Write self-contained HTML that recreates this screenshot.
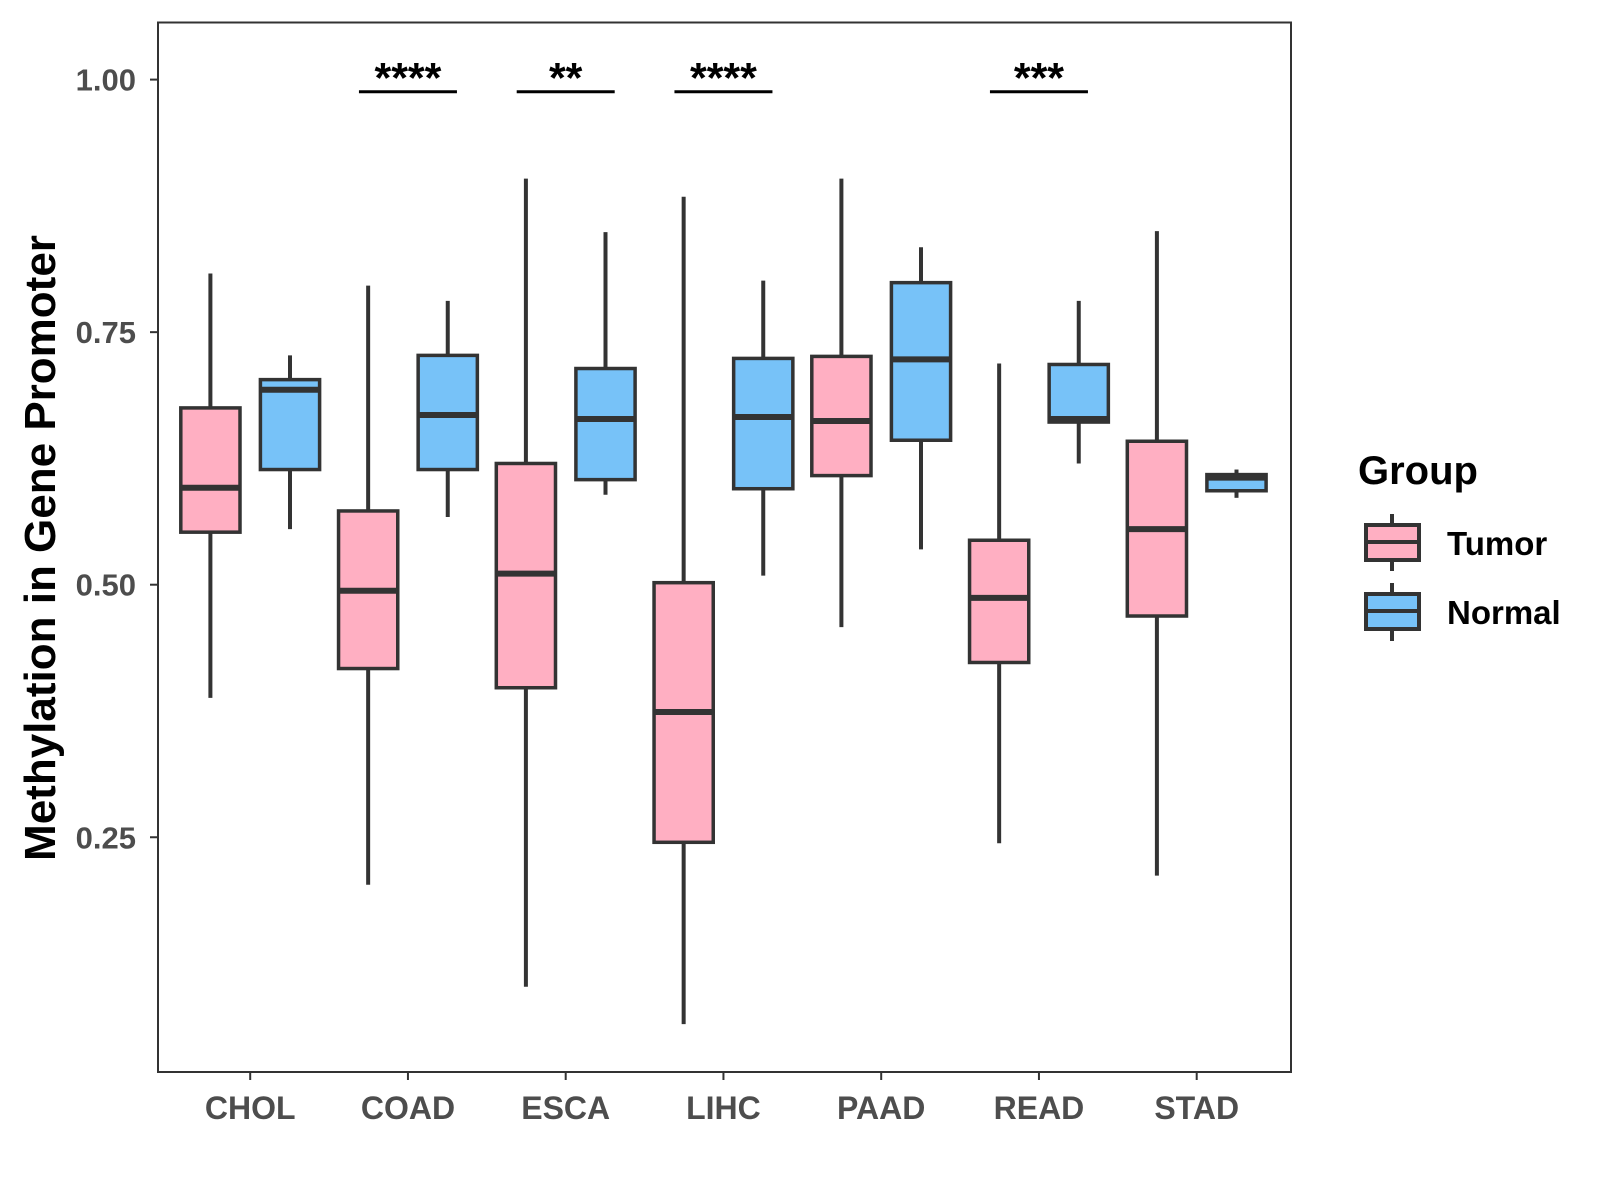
<!DOCTYPE html>
<html><head><meta charset="utf-8"><style>
body{margin:0;background:#fff}
svg{display:block;font-family:"Liberation Sans",Arial,sans-serif}
</style></head><body>
<svg id="chart" width="1600" height="1200" viewBox="0 0 1600 1200">
<rect x="0" y="0" width="1600" height="1200" fill="#fff"/>
<g id="plot"></g>
<rect x="158" y="22.5" width="1133" height="1049.5" fill="none" stroke="#333" stroke-width="2"/>
<text transform="translate(55,548) rotate(-90)" text-anchor="middle" font-size="44" font-weight="bold" fill="#000">Methylation in Gene Promoter</text>
<g>
<text x="1358" y="484" font-size="40" font-weight="bold">Group</text>
<g>
<line x1="1392" y1="514" x2="1392" y2="571" stroke="#333" stroke-width="4"/>
<rect x="1366" y="525" width="53" height="35" fill="#FFAFC2" stroke="#333" stroke-width="4"/>
<line x1="1366" y1="542" x2="1419" y2="542" stroke="#333" stroke-width="4"/>
<text x="1447" y="555" font-size="33" font-weight="bold">Tumor</text>
</g>
<g>
<line x1="1392" y1="583" x2="1392" y2="641" stroke="#333" stroke-width="4"/>
<rect x="1366" y="594" width="53" height="35" fill="#77C2F8" stroke="#333" stroke-width="4"/>
<line x1="1366" y1="611" x2="1419" y2="611" stroke="#333" stroke-width="4"/>
<text x="1447" y="624" font-size="33" font-weight="bold">Normal</text>
</g>
</g>
</svg>
<script>
const categories=["CHOL","COAD","ESCA","LIHC","PAAD","READ","STAD"];
// [low, q1, median, q3, high]
const tumorStats=[[0.388,0.552,0.596,0.675,0.808],[0.203,0.417,0.494,0.573,0.796],[0.102,0.398,0.511,0.620,0.902],[0.065,0.245,0.374,0.502,0.884],[0.458,0.608,0.662,0.726,0.902],[0.244,0.423,0.487,0.544,0.719],[0.212,0.469,0.555,0.642,0.850]];
const normalStats=[[0.555,0.614,0.693,0.703,0.727],[0.567,0.614,0.668,0.727,0.781],[0.589,0.604,0.664,0.714,0.849],[0.509,0.595,0.666,0.724,0.801],[0.535,0.643,0.723,0.799,0.834],[0.620,0.661,0.664,0.718,0.781],[0.586,0.593,0.606,0.609,0.614]];
const sigLabels=["","****","**","****","","***",""];
const yTicks=[0.25,0.50,0.75,1.00];
const yTickLabels=["0.25","0.50","0.75","1.00"];
const sigLevel=0.99;

const NS="http://www.w3.org/2000/svg";
const g=document.getElementById('plot');
function y(v){return 79.6+(1-v)*1010.2;}
function x(i){return 250.2+i*157.75;}
function mk(tag,attrs,parent){const e=document.createElementNS(NS,tag);for(const k in attrs)e.setAttribute(k,attrs[k]);(parent||g).appendChild(e);return e;}

yTicks.forEach((t,i)=>{
  const tk=mk('line',{x1:150,x2:158,y1:y(t),y2:y(t),stroke:'#333','stroke-width':2});
  
  
  const tl=mk('text',{x:136,y:y(t)+11,'text-anchor':'end','font-size':31,'font-weight':'bold',fill:'#4d4d4d'});
  tl.textContent=yTickLabels[i];
  
  
});
categories.forEach((c,i)=>{
  const tk=mk('line',{x1:x(i),x2:x(i),y1:1072,y2:1080,stroke:'#333','stroke-width':2});
  
  
  const tl=mk('text',{x:x(i),y:1119,'text-anchor':'middle','font-size':32,'font-weight':'bold',fill:'#4d4d4d'});
  tl.textContent=c;
  
  
});
function box(cx,s,fill,name){
  const grp=mk('g',{});
  
  
  mk('line',{x1:cx,x2:cx,y1:y(s[0]),y2:y(s[4]),stroke:'#333','stroke-width':4},grp);
  mk('rect',{x:cx-29.6,y:y(s[3]),width:59.2,height:y(s[1])-y(s[3]),fill:fill,stroke:'#333','stroke-width':3.5},grp);
  mk('line',{x1:cx-29.6,x2:cx+29.6,y1:y(s[2]),y2:y(s[2]),stroke:'#333','stroke-width':6},grp);
}
categories.forEach((c,i)=>{
  box(x(i)-39.8,tumorStats[i],'#FFAFC2','box-tumor-'+c.toLowerCase());
  box(x(i)+39.8,normalStats[i],'#77C2F8','box-normal-'+c.toLowerCase());
  if(sigLabels[i]){
    const b=mk('line',{x1:x(i)-49,x2:x(i)+49,y1:y(sigLevel)+2,y2:y(sigLevel)+2,stroke:'#000','stroke-width':3});
    
    
    const t=mk('text',{x:x(i),y:y(sigLevel)+3,'text-anchor':'middle','font-size':43,'font-weight':'bold',fill:'#000'});
    t.textContent=sigLabels[i];
    
    
  }
});
</script>
</body></html>
